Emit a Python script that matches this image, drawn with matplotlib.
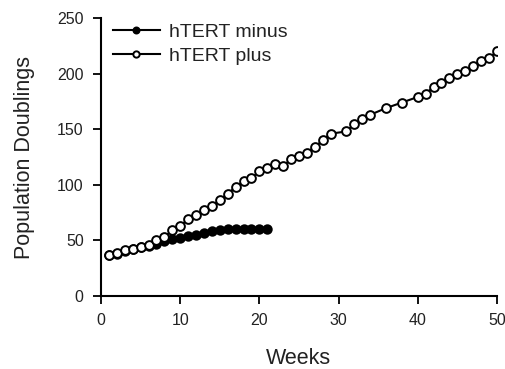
import matplotlib.pyplot as plt

# hTERT minus: population doublings per week
weeks_minus = list(range(1, 22))
pd_minus = [37, 38, 40, 42, 44, 45, 47, 49, 51, 52, 54, 55, 57, 58, 59,
            60, 60, 60, 60, 60, 60]

# hTERT plus (some weeks missing)
weeks_plus = list(range(1, 30)) + [31, 32, 33, 34, 36, 38] + list(range(40, 51))
pd_plus = [37, 39, 41, 42, 44, 46, 50, 53, 59, 63, 69, 73, 77, 81, 86,
           92, 98, 103, 106, 112, 115, 119, 117, 123, 126, 129, 134, 140, 146,
           148, 155, 159, 163, 169, 174,
           179, 182, 188, 192, 196, 200, 202, 207, 211, 214, 220]

plt.rcParams['font.family'] = ['Liberation Sans', 'DejaVu Sans']
txt = '#222222'

fig = plt.figure(figsize=(5.06, 3.69), dpi=100)
ax = fig.add_axes([0.1996, 0.198, 0.7824, 0.753])

ax.plot(weeks_minus, pd_minus, color='black', lw=1.5, marker='o', ms=6.3,
        mfc='black', mec='black', mew=1.2, label='hTERT minus', zorder=2)
ax.plot(weeks_plus, pd_plus, color='black', lw=1.5, marker='o', ms=6.3,
        mfc='white', mec='black', mew=1.4, label='hTERT plus', zorder=3)

ax.set_xlim(0, 50)
ax.set_ylim(0, 250)
ax.set_xticks([0, 10, 20, 30, 40, 50])
ax.set_yticks([0, 50, 100, 150, 200, 250])
for s in ['top', 'right']:
    ax.spines[s].set_visible(False)
for s in ['left', 'bottom']:
    ax.spines[s].set_linewidth(1.5)
ax.tick_params(direction='out', length=5.5, width=1.3, labelsize=11.5,
               pad=7, labelcolor=txt)

ax.set_xlabel('Weeks', fontsize=15.5, labelpad=14, color=txt)
ax.set_ylabel('Population Doublings', fontsize=15.5, labelpad=16, color=txt)

leg = ax.legend(loc='upper left', frameon=False, fontsize=14, handlelength=2.4,
                handletextpad=0.5, labelspacing=0.3, borderpad=0,
                borderaxespad=0, markerscale=0.72,
                bbox_to_anchor=(12 / 396, 0.98))
for t in leg.get_texts():
    t.set_color(txt)

fig.savefig('out.png', dpi=100)
